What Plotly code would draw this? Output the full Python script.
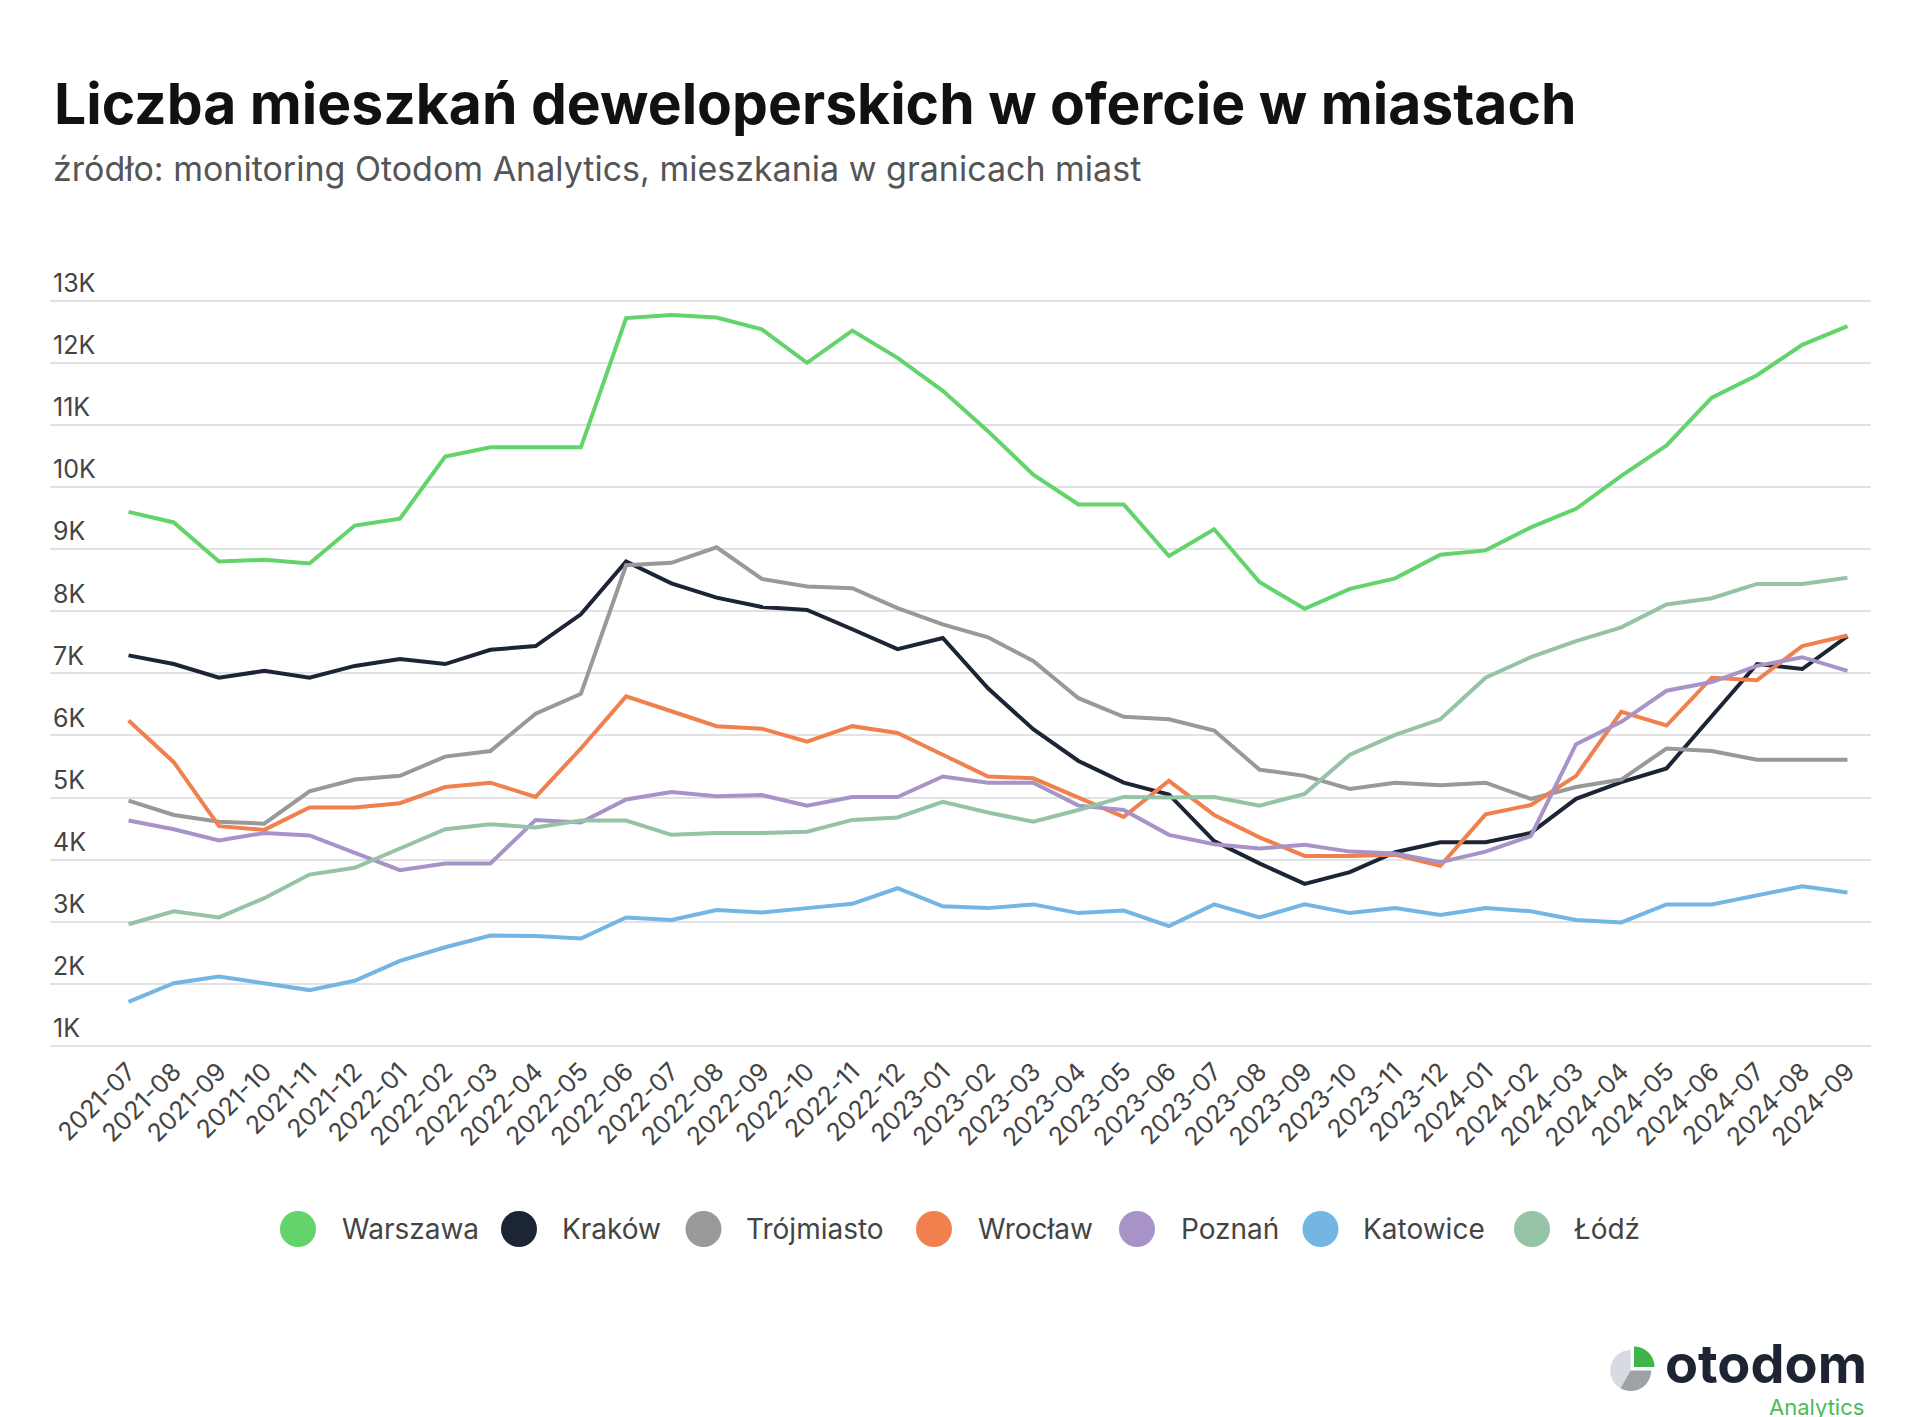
import math
import plotly.graph_objects as go

months = ["2021-07", "2021-08", "2021-09", "2021-10", "2021-11", "2021-12",
          "2022-01", "2022-02", "2022-03", "2022-04", "2022-05", "2022-06",
          "2022-07", "2022-08", "2022-09", "2022-10", "2022-11", "2022-12",
          "2023-01", "2023-02", "2023-03", "2023-04", "2023-05", "2023-06",
          "2023-07", "2023-08", "2023-09", "2023-10", "2023-11", "2023-12",
          "2024-01", "2024-02", "2024-03", "2024-04", "2024-05", "2024-06",
          "2024-07", "2024-08", "2024-09"]

warszawa = [9600, 9430, 8800, 8830, 8770, 9380, 9490, 10490, 10640, 10640, 10640, 12720, 12770,
            12730, 12540, 12000, 12520, 12080, 11550, 10900, 10200, 9720, 9720, 8890, 9320, 8470,
            8040, 8360, 8530, 8910, 8980, 9350, 9650, 10180, 10670, 11440, 11800, 12290, 12590]
krakow = [7290, 7150, 6930, 7040, 6930, 7120, 7230, 7150, 7380, 7440, 7950, 8800, 8450,
          8220, 8070, 8020, 7710, 7390, 7570, 6760, 6100, 5590, 5240, 5050, 4300, 3940,
          3610, 3800, 4120, 4280, 4280, 4430, 4980, 5250, 5470, 6300, 7150, 7070, 7600]
trojmiasto = [4950, 4720, 4610, 4580, 5100, 5290, 5350, 5660, 5750, 6350, 6670, 8740, 8780,
              9030, 8520, 8400, 8370, 8050, 7790, 7580, 7200, 6600, 6300, 6260, 6080, 5450,
              5350, 5140, 5240, 5200, 5240, 4980, 5170, 5290, 5790, 5750, 5610, 5610, 5610]
wroclaw = [6240, 5570, 4540, 4480, 4840, 4840, 4910, 5170, 5240, 5010, 5790, 6630, 6390,
           6150, 6110, 5900, 6150, 6040, 5690, 5340, 5310, 5000, 4690, 5270, 4720, 4360,
           4060, 4060, 4080, 3900, 4730, 4880, 5350, 6380, 6160, 6930, 6890, 7440, 7610]
poznan = [4630, 4490, 4310, 4430, 4390, 4110, 3830, 3940, 3940, 4640, 4600, 4970, 5090,
          5020, 5040, 4870, 5010, 5010, 5340, 5240, 5240, 4870, 4800, 4400, 4250, 4180,
          4240, 4130, 4100, 3960, 4130, 4380, 5860, 6220, 6720, 6860, 7120, 7260, 7040]
katowice = [1710, 2010, 2120, 2010, 1900, 2050, 2370, 2590, 2780, 2770, 2730, 3070, 3030,
            3190, 3150, 3220, 3290, 3540, 3250, 3220, 3280, 3140, 3180, 2930, 3280, 3070,
            3280, 3140, 3220, 3110, 3220, 3170, 3030, 2990, 3280, 3280, 3430, 3570, 3470]
lodz = [2960, 3170, 3070, 3380, 3760, 3870, 4180, 4490, 4570, 4520, 4630, 4630, 4400,
        4430, 4430, 4450, 4640, 4680, 4930, 4760, 4610, 4800, 5010, 5000, 5010, 4870,
        5060, 5690, 6010, 6260, 6930, 7260, 7520, 7740, 8110, 8210, 8440, 8440, 8540]

city_names = ["Warszawa", "Kraków", "Trójmiasto", "Wrocław", "Poznań", "Katowice", "Łódź"]
city_values = [warszawa, krakow, trojmiasto, wroclaw, poznan, katowice, lodz]
city_colors = ["#62d46b", "#1c2536", "#999999", "#f0804d", "#a893c8", "#73b5e3", "#95c3a5"]

y_tickvals = [1000, 2000, 3000, 4000, 5000, 6000, 7000, 8000, 9000, 10000, 11000, 12000, 13000]
y_ticktext = ["1K", "2K", "3K", "4K", "5K", "6K", "7K", "8K", "9K", "10K", "11K", "12K", "13K"]

FONT = "Inter"
W, H = 1924, 1417
ML, MR, MT, MB = 42, 61, 288, 374
PW, PH = W - ML - MR, H - MT - MB
Y_RANGE = [919.5, 13076]


def px(x):
    return (x - ML) / PW


def py(y):
    return (H - MB - y) / PH


fig = go.Figure()
for name, vals, col in zip(city_names, city_values, city_colors):
    fig.add_trace(go.Scatter(x=months, y=vals, name=name, mode="lines",
                             line=dict(color=col, width=4), showlegend=False))

annotations = [
    dict(text="<b>Liczba mieszkań deweloperskich w ofercie w miastach</b>",
         x=px(44), y=py(96), xref="paper", yref="paper", xanchor="left", yanchor="middle",
         showarrow=False, font=dict(family=FONT, size=57, color="#111111", weight=900)),
    dict(text="źródło: monitoring Otodom Analytics, mieszkania w granicach miast",
         x=px(43), y=py(161), xref="paper", yref="paper", xanchor="left", yanchor="middle",
         showarrow=False, font=dict(family=FONT, size=34, color="#555555")),
]
shapes = []

# legend (circles + labels)
legend_cx = [290, 511, 695.5, 926, 1129, 1312.5, 1524]
legend_tx = [332, 552, 736, 968, 1171, 1353, 1564]
legend_y = 1221
for name, col, cx, tx in zip(city_names, city_colors, legend_cx, legend_tx):
    shapes.append(dict(type="circle", xref="paper", yref="paper", xsizemode="pixel",
                       ysizemode="pixel", xanchor=px(cx), yanchor=py(legend_y),
                       x0=-18, x1=18, y0=-18, y1=18, fillcolor=col, line=dict(width=0)))
    annotations.append(dict(text=name, x=px(tx), y=py(legend_y), xref="paper", yref="paper",
                            xanchor="left", yanchor="middle", showarrow=False,
                            font=dict(family=FONT, size=28, color="#444444")))


# logo
def sector(a0, a1, r, dx=0.0, dy=0.0, n=40):
    pts = [(dx, dy)]
    for k in range(n + 1):
        a = math.radians(a0 + (a1 - a0) * k / n)
        pts.append((dx + r * math.cos(a), dy + r * math.sin(a)))
    return "M " + " L ".join(f"{x:.2f},{y:.2f}" for x, y in pts) + " Z"


logo_cx, logo_cy = 1622.7, 1362.5
for path, col in [(sector(90, 240, 20.5), "#d7dae0"),
                  (sector(240, 360, 20.5), "#9da1a8"),
                  (sector(0, 90, 20.5, 3.3, 3.5), "#3fb549")]:
    shapes.append(dict(type="path", xref="paper", yref="paper", xsizemode="pixel",
                       ysizemode="pixel", xanchor=px(logo_cx), yanchor=py(logo_cy),
                       path=path, fillcolor=col, line=dict(width=0)))
annotations.append(dict(text="<b>otodom</b>", x=px(1861), y=py(1355), xref="paper", yref="paper",
                        xanchor="right", yanchor="middle", showarrow=False,
                        font=dict(family=FONT, size=54, color="#1e2433", weight=700)))
annotations.append(dict(text="Analytics", x=px(1858), y=py(1399), xref="paper", yref="paper",
                        xanchor="right", yanchor="middle", showarrow=False,
                        font=dict(family=FONT, size=22, color="#4dbb57")))

fig.update_layout(
    width=W, height=H,
    margin=dict(l=ML, r=MR, t=MT, b=MB, pad=0),
    paper_bgcolor="white", plot_bgcolor="white",
    showlegend=False,
    annotations=annotations,
    shapes=shapes,
    xaxis=dict(type="category", range=[-1.736, 38.52], showgrid=False, zeroline=False,
               showline=False, ticks="", tickangle=-45,
               tickfont=dict(family=FONT, size=25, color="#444444")),
    yaxis=dict(range=Y_RANGE, tickvals=y_tickvals, ticktext=y_ticktext,
               showgrid=True, gridcolor="#e2e2e2", gridwidth=2, zeroline=False,
               showline=False, ticks="", ticklabelposition="inside top",
               ticklabeloverflow="allow",
               tickfont=dict(family=FONT, size=25, color="#444444")),
    hovermode=False,
)

fig.write_html("out.html")
